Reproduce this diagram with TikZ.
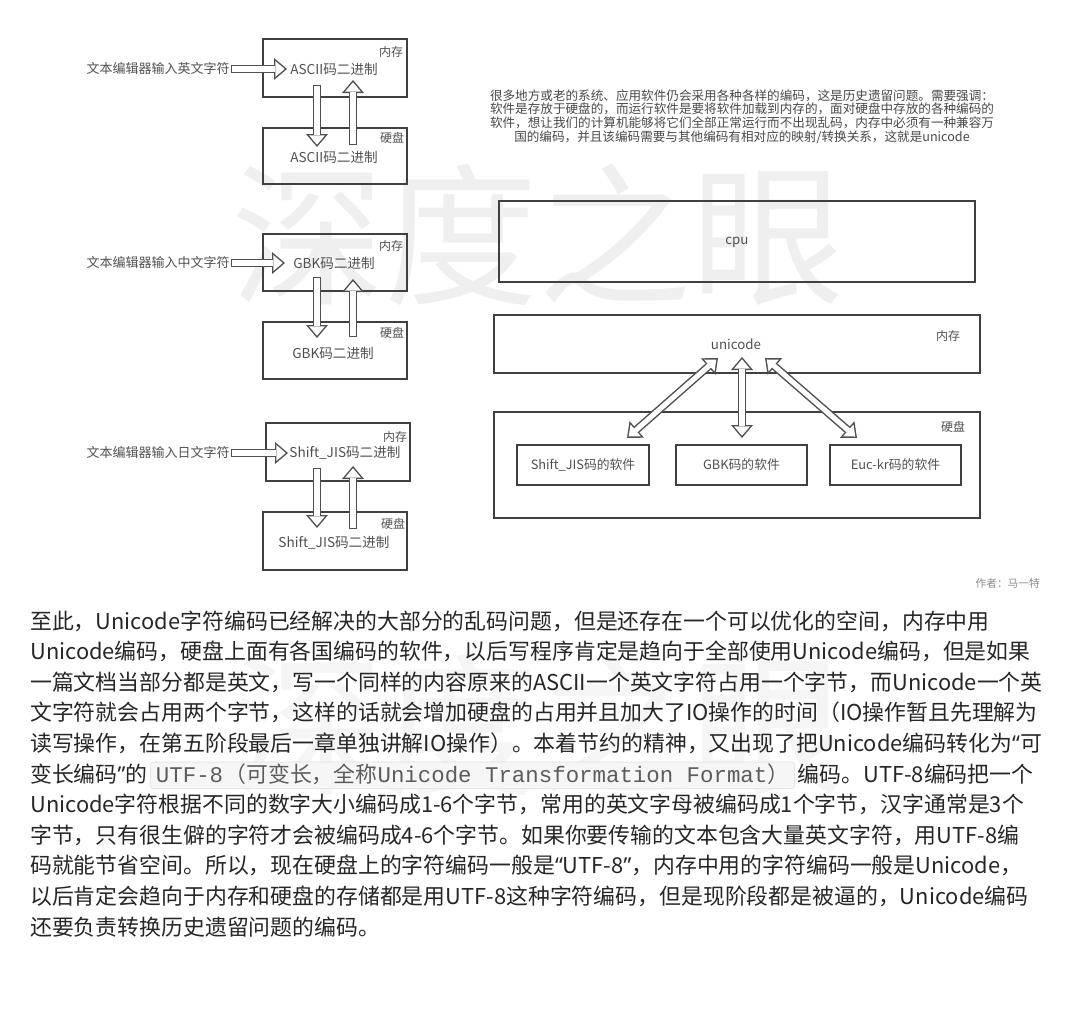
\documentclass[tikz,border=0pt]{standalone}
\usepackage{fontspec}
\setmainfont{Noto Sans CJK SC}
\newfontfamily\codefont{Liberation Mono}
\newfontfamily\latinfont{Noto Sans}
\newcommand\cnlq{{\latinfont “}}
\newcommand\cnrq{{\latinfont ”}}
\usetikzlibrary{arrows.meta}
\usetikzlibrary{positioning}

\definecolor{boxline}{RGB}{64,64,64}
\definecolor{arrgray}{RGB}{80,80,80}
\definecolor{txtgray}{RGB}{80,80,80}
\definecolor{bodytxt}{RGB}{38,38,38}
\definecolor{wmgray}{RGB}{239,239,239}
\definecolor{wmlight}{RGB}{245,245,245}
\definecolor{codebg}{RGB}{246,246,246}
\definecolor{codeline}{RGB}{222,222,222}

\begin{document}
\begin{tikzpicture}[x=0.75pt,y=0.75pt,yscale=-1,xscale=1,
  boxst/.style={draw=boxline, line width=1.4pt},
  dgtxt/.style={inner sep=0.75pt, text=txtgray, font=\fontsize{10.2}{12}\selectfont},
  lbltxt/.style={dgtxt, anchor=east, font=\fontsize{9.75}{11}\selectfont},
  tagtxt/.style={dgtxt, font=\fontsize{9}{10}\selectfont},
  swtxt/.style={dgtxt, font=\fontsize{9.6}{12}\selectfont},
  blockarr/.style={preaction={draw=arrgray, line width=6pt, shorten >=0pt, shorten <=0pt, -{Triangle[length=9.75pt,width=16.5pt,line width=0pt]}},
    draw=white, line width=3.8pt, shorten <=1.1pt, shorten >=1.7pt, -{Triangle[length=6.95pt,width=11.76pt,line width=0pt]}},
  blockdbl/.style={preaction={draw=arrgray, line width=6pt, shorten >=0pt, shorten <=0pt, {Triangle[length=9.75pt,width=16.5pt,line width=0pt]}-{Triangle[length=9.75pt,width=16.5pt,line width=0pt]}},
    draw=white, line width=3.8pt, shorten <=1.7pt, shorten >=1.7pt, {Triangle[length=6.95pt,width=11.76pt,line width=0pt]}-{Triangle[length=6.95pt,width=11.76pt,line width=0pt]}},
  bodyline/.style={anchor=base west, inner sep=0pt, text=bodytxt, font=\fontsize{16.4}{20}\selectfont},
  codebox/.style={draw=codeline, fill=codebg, rounded corners=2pt, inner xsep=4pt, inner ysep=0pt, text height=15pt, text depth=5pt, text=bodytxt!75, font=\fontsize{16.4}{20}\selectfont}]
\useasboundingbox (0,0) rectangle (1068,1014);

% watermark
\node[text=wmgray, font=\fontsize{115}{115}\selectfont] (wmtop) at (538,235) {深度之眼};
\node[text=wmlight, font=\fontsize{115}{115}\selectfont] (wmbot) at (538,725) {深度之眼};

%Shape: Rectangle [English]
\draw[boxst] (263,39) rectangle (407,97);
\draw[boxst] (263,128) rectangle (407,184);
% Text Node
\node[lbltxt] (in1) at (231,69) {文本编辑器输入英文字符};
\node[dgtxt] (mem1) at (334,69) {ASCII码二进制};
\node[tagtxt] (memtag1) at (391,52) {内存};
\node[tagtxt] (disktag1) at (392,138) {硬盘};
\node[dgtxt] (disk1) at (334,157) {ASCII码二进制};
\coordinate (tip1) at (287,69);
\coordinate (dn1a) at (317,85);
\coordinate (dn1b) at (317,147);
\coordinate (up1a) at (353,145);
\coordinate (up1b) at (353,80);
\draw[blockarr] (in1.east) -- (tip1);
\draw[blockarr] (dn1a) -- (dn1b);
\draw[blockarr] (up1a) -- (up1b);

%Shape: Rectangle [Chinese]
\draw[boxst] (263,234) rectangle (407,291);
\draw[boxst] (263,322) rectangle (407,379);
% Text Node
\node[lbltxt] (in2) at (231,263) {文本编辑器输入中文字符};
\node[dgtxt] (mem2) at (334,263) {GBK码二进制};
\node[tagtxt] (memtag2) at (391,246) {内存};
\node[tagtxt] (disktag2) at (392,333) {硬盘};
\node[dgtxt] (disk2) at (333,353) {GBK码二进制};
\coordinate (tip2) at (285,263);
\coordinate (dn2a) at (317,277);
\coordinate (dn2b) at (317,338);
\coordinate (up2a) at (353,337);
\coordinate (up2b) at (353,279);
\draw[blockarr] (in2.east) -- (tip2);
\draw[blockarr] (dn2a) -- (dn2b);
\draw[blockarr] (up2a) -- (up2b);

%Shape: Rectangle [Japanese]
\draw[boxst] (266,423) rectangle (410,481);
\draw[boxst] (263,512) rectangle (407,570);
% Text Node
\node[lbltxt] (in3) at (231,453) {文本编辑器输入日文字符};
\node[dgtxt] (mem3) at (345,453) {Shift\_JIS码二进制};
\node[tagtxt] (memtag3) at (395,437) {内存};
\node[tagtxt] (disktag3) at (393,524) {硬盘};
\node[dgtxt] (disk3) at (334,543) {Shift\_JIS码二进制};
\coordinate (tip3) at (288,453);
\coordinate (dn3a) at (317,468);
\coordinate (dn3b) at (317,528);
\coordinate (up3a) at (353,529);
\coordinate (up3b) at (353,466);
\draw[blockarr] (in3.east) -- (tip3);
\draw[blockarr] (dn3a) -- (dn3b);
\draw[blockarr] (up3a) -- (up3b);

% Text Node
\node[dgtxt, align=center, text=txtgray!90!black, font=\fontsize{9.45}{10.3}\selectfont] (intro) at (742,116.5) {很多地方或老的系统、应用软件仍会采用各种各样的编码，这是历史遗留问题。需要强调：\\软件是存放于硬盘的，而运行软件是要将软件加载到内存的，面对硬盘中存放的各种编码的\\软件，想让我们的计算机能够将它们全部正常运行而不出现乱码，内存中必须有一种兼容万\\国的编码，并且该编码需要与其他编码有相对应的映射/转换关系，这就是unicode};

%Shape: Rectangle [cpu / ram / disk]
\draw[boxst] (499,201) rectangle (975,282);
\draw[boxst] (494,315) rectangle (980,373);
\draw[boxst] (494,412) rectangle (980,518);
\draw[boxst] (517,445) rectangle (649,485);
\draw[boxst] (676,445) rectangle (807,485);
\draw[boxst] (830,445) rectangle (961,485);
% Text Node
\node[dgtxt, font=\fontsize{10}{12}\selectfont] (cpu) at (737,242) {cpu};
\node[dgtxt, font=\fontsize{10}{12}\selectfont] (uni) at (736,344) {unicode};
\node[tagtxt] (ramtag) at (948,336) {内存};
\node[tagtxt] (hddtag) at (953,427) {硬盘};
\node[swtxt] (swjis) at (583,465) {Shift\_JIS码的软件};
\node[swtxt] (swgbk) at (741.5,465) {GBK码的软件};
\node[swtxt] (swkr) at (895.5,465) {Euc-kr码的软件};
\coordinate (ua) at (718,358);
\coordinate (ub) at (742,357);
\coordinate (uc) at (765,358);
\coordinate (ja) at (627,438);
\coordinate (gb) at (742,438);
\coordinate (kr) at (857,438);
\draw[blockdbl] (ua) -- (ja);
\draw[blockdbl] (ub) -- (gb);
\draw[blockdbl] (uc) -- (kr);

\node[anchor=east, inner sep=0pt, text=black!45, font=\fontsize{8}{9}\selectfont] (author) at (1040,583) {作者：马一特};

% Text Node
\node[bodyline] (par1) at (30,629) {至此，Unicode字符编码已经解决的大部分的乱码问题，但是还存在一个可以优化的空间，内存中用};
\node[bodyline] (par2) at (30,659.6) {Unicode编码，硬盘上面有各国编码的软件，以后写程序肯定是趋向于全部使用Unicode编码，但是如果};
\node[bodyline] (par3) at (30,690.2) {一篇文档当部分都是英文，写一个同样的内容原来的ASCII一个英文字符占用一个字节，而Unicode一个英};
\node[bodyline] (par4) at (30,720.8) {文字符就会占用两个字节，这样的话就会增加硬盘的占用并且加大了IO操作的时间（IO操作暂且先理解为};
\node[bodyline] (par5) at (30,751.4) {读写操作，在第五阶段最后一章单独讲解IO操作）。本着节约的精神，又出现了把Unicode编码转化为\cnlq 可};
\node[bodyline] (par6) at (30,782) {变长编码\cnrq 的};
\node[codebox, base right=2pt of par6] (code) {{\codefont\fontsize{16.8}{20}\selectfont UTF-8}\hspace{1pt}（可变长，全称{\codefont\fontsize{16.8}{20}\selectfont Unicode Transformation Format}）\hspace{3pt}};
\node[bodyline, base right=2pt of code] (par6b) {编码。UTF-8编码把一个};
\node[bodyline] (par7) at (30,812.6) {Unicode字符根据不同的数字大小编码成1-6个字节，常用的英文字母被编码成1个字节，汉字通常是3个};
\node[bodyline] (par8) at (30,843.2) {字节，只有很生僻的字符才会被编码成4-6个字节。如果你要传输的文本包含大量英文字符，用UTF-8编};
\node[bodyline] (par9) at (30,873.8) {码就能节省空间。所以，现在硬盘上的字符编码一般是\cnlq UTF-8\cnrq ，内存中用的字符编码一般是Unicode，};
\node[bodyline] (par10) at (30,904.4) {以后肯定会趋向于内存和硬盘的存储都是用UTF-8这种字符编码，但是现阶段都是被逼的，Unicode编码};
\node[bodyline] (par11) at (30,935) {还要负责转换历史遗留问题的编码。};

\end{tikzpicture}
\end{document}
